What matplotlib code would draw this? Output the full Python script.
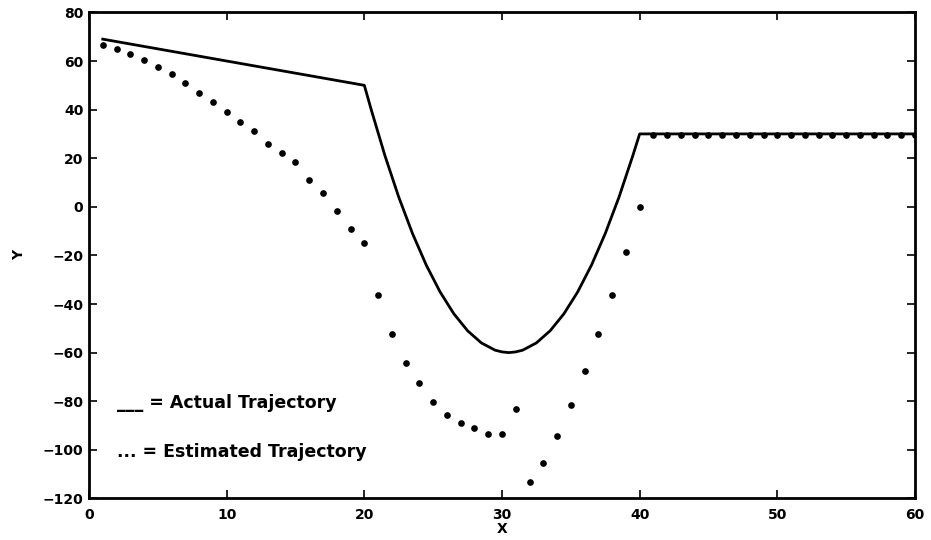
import numpy as np
import matplotlib.pyplot as plt

# Actual trajectory
x_act = [1, 20, 20.5, 21, 21.5, 22, 22.5, 23, 23.5, 24, 24.5, 25, 25.5, 26,
         26.5, 27, 27.5, 28, 28.5, 29, 29.5, 30, 30.5, 31, 31.5, 32, 32.5,
         33, 33.5, 34, 34.5, 35, 35.5, 36, 36.5, 37, 37.5, 38, 38.5, 39,
         39.5, 40, 60]
y_act = [69, 50, 40, 30.5, 21, 12.5, 4, -3.5, -11, -17.5, -24, -29.5, -35,
         -39.5, -44, -47.5, -51, -53.5, -56, -57.5, -59, -59.7, -60, -59.7,
         -59, -57.5, -56, -53.5, -51, -47.5, -44, -39.5, -35, -29.5, -24,
         -17.5, -11, -3.5, 4, 12.5, 21, 30, 30]

# Estimated trajectory (one dot per step)
x_est = list(range(1, 61))
y_est = [66.6, 65.1, 63.0, 60.5, 57.5, 54.6, 50.8, 46.8, 43.1, 39.2,
         35.1, 31.4, 25.7, 22.3, 18.4, 10.9, 5.6, -1.8, -9.2, -14.9,
         -36.2, -52.3, -64.4, -72.4, -80.2, -85.7, -89.0, -91.0, -93.3, -93.3,
         -83.0, -113.1, -105.5, -94.3, -81.7, -67.5, -52.2, -36.1, -18.7, -0.2,
         29.5, 29.5, 29.5, 29.5, 29.5, 29.5, 29.5, 29.5, 29.5, 29.5,
         29.5, 29.5, 29.5, 29.5, 29.5, 29.5, 29.5, 29.5, 29.5, 29.5]

xticks = [0, 10, 20, 30, 40, 50, 60]
yticks = [80, 60, 40, 20, 0, -20, -40, -60, -80, -100, -120]

plt.rcParams['font.family'] = 'DejaVu Sans'
plt.rcParams['font.weight'] = 'bold'

fig = plt.figure(figsize=(9.31, 5.4), dpi=100)
ax = fig.add_axes([0.0956, 0.077, 0.8872, 0.9])

ax.plot(x_act, y_act, color='black', linewidth=2)
ax.plot(x_est, y_est, linestyle='none', marker='o', markersize=3.8,
        color='black')

ax.set_xlim(0, 60)
ax.set_ylim(-120, 80)
ax.set_xticks(xticks)
ax.set_yticks(yticks)
ax.tick_params(direction='in', top=True, right=True, length=6, width=1.2,
               labelsize=10, pad=4)
ax.tick_params(axis='x', pad=7)
for s in ax.spines.values():
    s.set_linewidth(2)

ax.set_xlabel('X', fontsize=10, fontweight='bold', labelpad=0)
ax.set_ylabel('Y', fontsize=10, fontweight='bold', labelpad=12)

ax.text(2.0, -80.8, '___ = Actual Trajectory', fontsize=12.5,
        fontweight='bold', va='center')
ax.text(2.0, -100.9, '... = Estimated Trajectory', fontsize=12.5,
        fontweight='bold', va='center')

fig.savefig('out.png', dpi=100)
